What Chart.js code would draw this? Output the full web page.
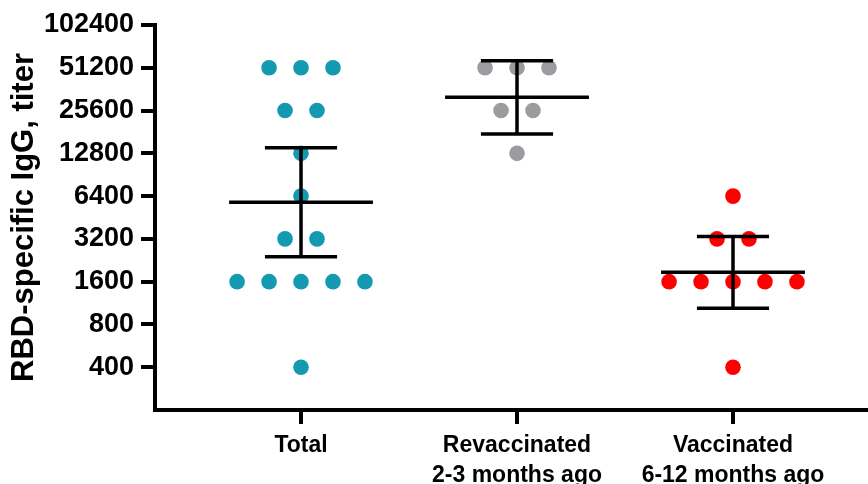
<!DOCTYPE html>
<html>
<head>
<meta charset="utf-8">
<script src="https://cdn.jsdelivr.net/npm/chart.js@4.4.1/dist/chart.umd.min.js"></script>
<style>
  html, body { margin: 0; padding: 0; background: #fff; }
  #wrap { width: 868px; height: 484px; position: relative; }
</style>
</head>
<body>
<div id="wrap"><canvas id="titerChart"></canvas></div>
<script>
// categories (multi-line tick labels)
const groupLabels = [
  ['Total'],
  ['Revaccinated', '2-3 months ago'],
  ['Vaccinated', '6-12 months ago'],
];

// individual titers per group
const totalTiters = [51200, 51200, 51200, 25600, 25600, 12800, 6400, 3200, 3200, 1600, 1600, 1600, 1600, 1600, 400];
const revaccTiters = [51200, 51200, 51200, 25600, 25600, 12800];
const vaccTiters = [6400, 3200, 3200, 1600, 1600, 1600, 1600, 1600, 400];

// geometric mean with 95% CI
const geoMean = [5790, 31700, 1860];
const ciLow = [2400, 17500, 1040];
const ciHigh = [14000, 57400, 3320];

const yTicks = [400, 800, 1600, 3200, 6400, 12800, 25600, 51200, 102400];

const FONT = "'Liberation Sans', Arial, sans-serif";
const DOT_STEP = 0.148;   // horizontal spacing of tied dots, in category units
const MEAN_HALF = 0.333;
const CAP_HALF = 0.167;

// spread tied values side by side around the category centre
function swarm(values, groupIndex) {
  const counts = {};
  values.forEach(v => { counts[v] = (counts[v] || 0) + 1; });
  const seen = {};
  return values.map(v => {
    seen[v] = (seen[v] ?? -1) + 1;
    return { x: groupIndex + (seen[v] - (counts[v] - 1) / 2) * DOT_STEP, y: v };
  });
}

const errorBars = {
  id: 'errorBars',
  afterDatasetsDraw(chart) {
    const { ctx, scales: { x, y } } = chart;
    const seg = (x1, y1, x2, y2) => {
      ctx.beginPath();
      ctx.moveTo(x.getPixelForValue(x1), y.getPixelForValue(y1));
      ctx.lineTo(x.getPixelForValue(x2), y.getPixelForValue(y2));
      ctx.stroke();
    };
    ctx.save();
    ctx.strokeStyle = '#000';
    ctx.lineWidth = 3.5;
    geoMean.forEach((m, i) => {
      seg(i, ciLow[i], i, ciHigh[i]);
      seg(i - MEAN_HALF, m, i + MEAN_HALF, m);
      seg(i - CAP_HALF, ciHigh[i], i + CAP_HALF, ciHigh[i]);
      seg(i - CAP_HALF, ciLow[i], i + CAP_HALF, ciLow[i]);
    });
    ctx.restore();
  },
};

const dotSet = (data, color) => ({
  data,
  backgroundColor: color,
  borderWidth: 0,
  pointRadius: 7.8,
  pointHoverRadius: 7.8,
});

new Chart(document.getElementById('titerChart'), {
  type: 'scatter',
  data: {
    datasets: [
      dotSet(swarm(totalTiters, 0), '#1399b0'),
      dotSet(swarm(revaccTiters, 1), '#9c9ca0'),
      dotSet(swarm(vaccTiters, 2), '#ff0000'),
    ],
  },
  options: {
    responsive: true,
    maintainAspectRatio: false,
    animation: false,
    layout: { autoPadding: false, padding: { top: 25, left: 0, right: 0, bottom: 0 } },
    plugins: { legend: { display: false }, tooltip: { enabled: false } },
    scales: {
      x: {
        type: 'linear',
        min: -0.676,
        max: 2.625,
        afterBuildTicks: s => { s.ticks = groupLabels.map((_, i) => ({ value: i })); },
        afterFit: s => { s.height = 74; },
        ticks: {
          color: '#000',
          autoSkip: false,
          maxRotation: 0,
          padding: 7,
          font: { family: FONT, size: 23, weight: 'bold', lineHeight: 1.3 },
          callback: v => groupLabels[v],
        },
        grid: { drawOnChartArea: false, tickLength: 14, tickWidth: 4, lineWidth: 4, color: '#000' },
        border: { display: true, color: '#000', width: 4 },
      },
      y: {
        type: 'logarithmic',
        min: 200,
        max: 102400,
        afterBuildTicks: s => { s.ticks = yTicks.map(v => ({ value: v })); },
        afterFit: s => { s.width = 155; },
        ticks: {
          color: '#000',
          padding: 7,
          font: { family: FONT, size: 27, weight: 'bold' },
          callback: v => String(v),
        },
        grid: { drawOnChartArea: false, tickLength: 14, tickWidth: 4, lineWidth: 4, color: '#000' },
        border: { display: true, color: '#000', width: 4 },
        title: {
          display: true,
          text: 'RBD-specific IgG, titer',
          color: '#000',
          font: { family: FONT, size: 31, weight: 'bold', lineHeight: 1.2 },
          padding: { top: 6, bottom: 0 },
        },
      },
    },
  },
  plugins: [errorBars],
});
</script>
</body>
</html>
